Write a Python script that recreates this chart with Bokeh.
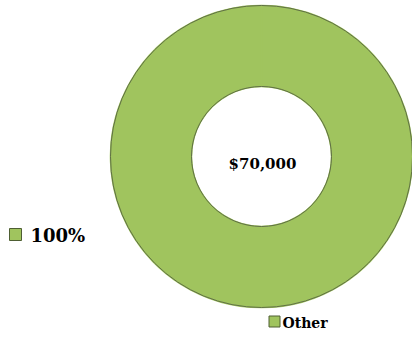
import numpy as np
from bokeh.plotting import figure
from bokeh.models import Range1d, ColumnDataSource
from bokeh.core.properties import value
from bokeh.embed import file_html
from bokeh.resources import INLINE

# data
categories = ["Other"]
values = [70000]
total_label = "$70,000"
pct_labels = ["100%"]

colors = ["#a0c45e"]

W, H = 412, 350
p = figure(width=W, height=H, output_backend="svg", toolbar_location=None,
           x_range=Range1d(0, W), y_range=Range1d(0, H), min_border=0)
p.axis.visible = False
p.grid.visible = False
p.outline_line_color = None
p.background_fill_color = "white"
p.border_fill_color = "white"


def Y(py):
    return H - py


vals = np.array(values, dtype=float)
fr = vals / vals.sum()
ends = np.cumsum(fr) * 2 * np.pi
starts = ends - fr * 2 * np.pi
# avoid degenerate full-circle arc
ends = np.minimum(ends, starts + 2 * np.pi - 1e-5)

cx, cy = 261, 156
r_out, r_in = 151, 70

src = ColumnDataSource(dict(x=[cx] * len(values), y=[Y(cy)] * len(values),
                            start=list(starts + np.pi / 2), end=list(ends + np.pi / 2),
                            color=colors, cat=categories))
p.annular_wedge(x="x", y="y", inner_radius=r_in, outer_radius=r_out,
                inner_radius_units="screen", outer_radius_units="screen",
                start_angle="start", end_angle="end", direction="anticlock",
                fill_color="color", line_color="color", line_width=1.5, source=src)
p.annulus(x=[cx], y=[Y(cy)], inner_radius=r_in, outer_radius=r_out,
          inner_radius_units="screen", outer_radius_units="screen",
          fill_alpha=0, line_color="#5f6f45", line_width=1)

font = value("DejaVu Serif")
p.text(x=[cx + 1], y=[Y(163)], text=[total_label], text_font=font,
       text_font_size="15px", text_font_style="bold", text_color="black",
       text_align="center", text_baseline="middle")

# data label legend (left)
p.scatter(x=[15], y=[Y(234)], marker="square", size=12, fill_color=colors[0],
          line_color="#4e5e33", line_width=1)
p.text(x=[30], y=[Y(235)], text=pct_labels, text_font=font, text_font_size="18px",
       text_font_style="bold", text_color="black", text_align="left",
       text_baseline="middle")

# category legend (bottom)
p.scatter(x=[274], y=[Y(321)], marker="square", size=11, fill_color=colors[0],
          line_color="#4e5e33", line_width=1)
p.text(x=[282], y=[Y(322)], text=categories, text_font=font, text_font_size="14px",
       text_font_style="bold", text_color="black", text_align="left",
       text_baseline="middle")

open("out.html", "w").write(file_html(p, INLINE))
